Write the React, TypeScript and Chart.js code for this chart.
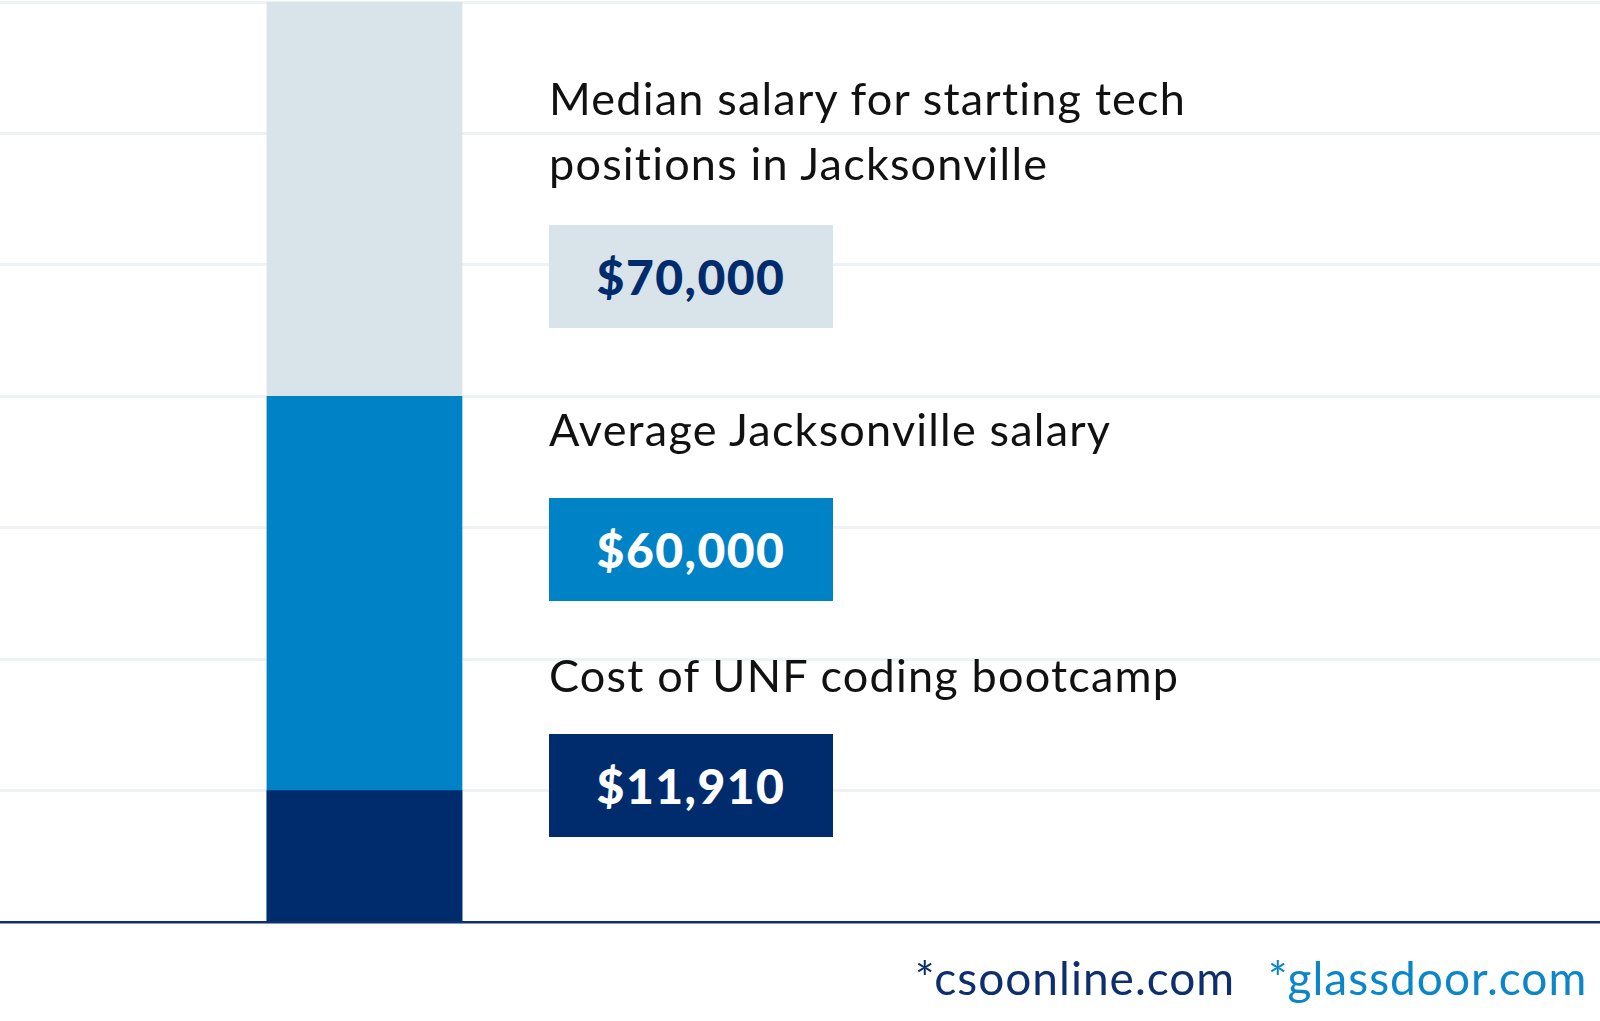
import React, { useEffect, useRef } from 'react';
import { Chart, registerables } from 'chart.js';

Chart.register(...registerables);

// ---- data ----
const seriesNames = [
  'Cost of UNF coding bootcamp',
  'Average Jacksonville salary',
  'Median salary for starting tech positions in Jacksonville',
];
const labelLines = [
  ['Cost of UNF coding bootcamp'],
  ['Average Jacksonville salary'],
  ['Median salary for starting tech', 'positions in Jacksonville'],
];
const amountLabels = ['$11,910', '$60,000', '$70,000'];
// bar heights as drawn, in gridline units (the infographic is not to scale)
const barLevels = [1, 4, 7];
const gridMax = 7;
const barPosition = 1;
const sources = ['*csoonline.com', '*glassdoor.com'];

// ---- styles ----
const barColors = ['#002c6e', '#0082c6', '#d9e3ea'];
const amountTextColors = ['#ffffff', '#ffffff', '#002c6e'];
const sourceColors = ['#0d2f6e', '#0b86c8'];
const gridColor = '#eef2f5';
const baseColor = '#0d2f6e';
const FONT = 'Lato, "Open Sans", sans-serif';

// annotation layout (pixel positions of the text blocks)
const labelTops = [643, 397, 66];
const boxTops = [734, 498, 225];
const sourceLefts = [915, 1268];

export default function App() {
  const canvasRef = useRef<HTMLCanvasElement | null>(null);

  useEffect(() => {
    const canvas = canvasRef.current;
    if (!canvas) return;
    const chart = new Chart(canvas, {
      type: 'bar',
      data: {
        datasets: barLevels.map((v, i) => ({
          label: seriesNames[i],
          data: [{ x: barPosition, y: v }],
          backgroundColor: barColors[i],
          borderWidth: 0,
          barThickness: 195,
          grouped: false,
          order: i + 1,
        })),
      },
      options: {
        responsive: false,
        animation: false,
        events: [],
        layout: { padding: { top: 2, bottom: 99, left: 0, right: 0 } },
        plugins: {
          legend: { display: false },
          tooltip: { enabled: false },
          title: { display: false },
        },
        scales: {
          x: {
            type: 'linear',
            display: false,
            offset: false,
            min: 0,
            max: 4.39,
          },
          y: {
            min: 0,
            max: gridMax,
            ticks: { display: false, stepSize: 1 },
            border: { display: false },
            grid: {
              drawTicks: false,
              color: (ctx: any) => (ctx.tick && ctx.tick.value === 0 ? baseColor : gridColor),
              lineWidth: (ctx: any) => (ctx.tick && ctx.tick.value === 0 ? 2.5 : 3),
            },
            afterFit: (s: any) => {
              s.width = 0;
            },
          },
        },
      },
    } as any);
    return () => chart.destroy();
  }, []);

  return (
    <div
      style={{
        position: 'absolute',
        left: 0,
        top: 0,
        width: 1600,
        height: 1021,
        background: '#ffffff',
        overflow: 'hidden',
        fontFamily: FONT,
        fontVariantLigatures: 'none',
      }}
    >
      <canvas ref={canvasRef} width={1600} height={1021} style={{ position: 'absolute', left: 0, top: 0 }} />
      {seriesNames.map((name, i) => (
        <React.Fragment key={name}>
          <div
            style={{
              position: 'absolute',
              left: 549,
              top: labelTops[i],
              fontSize: 45,
              lineHeight: '65px',
              letterSpacing: '1.2px',
              color: '#111111',
              whiteSpace: 'nowrap',
            }}
          >
            {labelLines[i].map((l) => (
              <div key={l}>{l}</div>
            ))}
          </div>
          <div
            style={{
              position: 'absolute',
              left: 549,
              top: boxTops[i],
              width: 284,
              height: 103,
              background: barColors[i],
              color: amountTextColors[i],
              display: 'flex',
              alignItems: 'center',
              justifyContent: 'center',
              fontSize: 48,
              fontWeight: 900,
              letterSpacing: '1.5px',
            }}
          >
            {amountLabels[i]}
          </div>
        </React.Fragment>
      ))}
      {sources.map((s, i) => (
        <div
          key={s}
          style={{
            position: 'absolute',
            left: sourceLefts[i],
            top: 948,
            fontSize: 46,
            lineHeight: '60px',
            letterSpacing: '1px',
            color: sourceColors[i],
            whiteSpace: 'nowrap',
          }}
        >
          {s}
        </div>
      ))}
    </div>
  );
}
